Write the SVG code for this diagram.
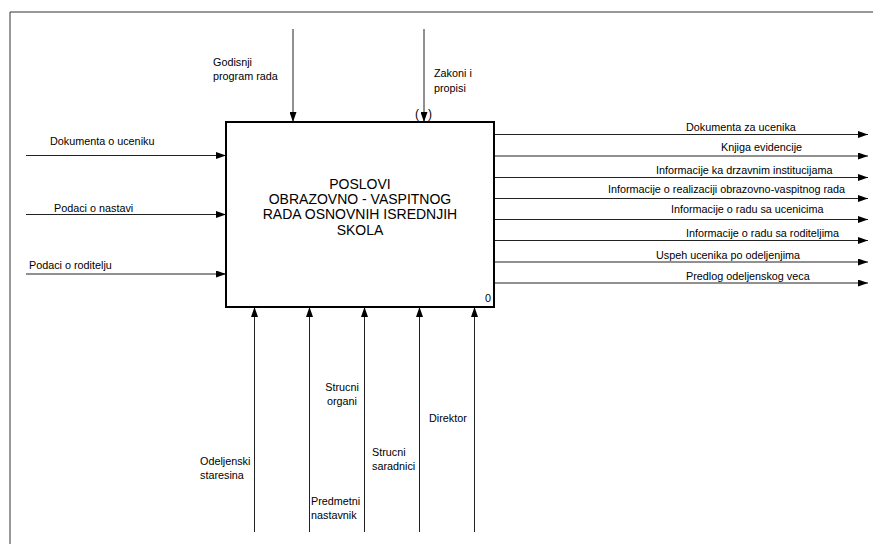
<svg xmlns="http://www.w3.org/2000/svg" width="873" height="544" viewBox="0 0 873 544">
<defs>
<marker id="ah" viewBox="0 0 10 7" refX="10" refY="3.5" markerWidth="10" markerHeight="7" markerUnits="userSpaceOnUse" orient="auto">
<path d="M0,0 L10,3.5 L0,7 Z" fill="#000"/>
</marker>
</defs>
<style>
text{font-family:"Liberation Sans",Arial,sans-serif;font-size:10.8px;fill:#000}
.t{font-size:14px}
.c{text-anchor:middle}
.ln{stroke:#222;stroke-width:1;fill:none;marker-end:url(#ah)}
.fr{stroke:#333;stroke-width:1;fill:none}
</style>
<rect width="873" height="544" fill="#fff"/>
<g id="frame">
<line class="fr" x1="10" y1="12" x2="873" y2="12"/>
<line class="fr" x1="10" y1="12" x2="10" y2="544"/>
</g>
<g id="connectors">
<line class="ln" x1="293" y1="29" x2="293" y2="122"/>
<line class="ln" x1="424" y1="29" x2="424" y2="122"/>
<line class="ln" x1="26" y1="155.5" x2="226" y2="155.5"/>
<line class="ln" x1="26" y1="214.5" x2="226" y2="214.5"/>
<line class="ln" x1="26" y1="274" x2="226" y2="274"/>
<line class="ln" x1="494" y1="134.5" x2="868" y2="134.5"/>
<line class="ln" x1="494" y1="156" x2="868" y2="156"/>
<line class="ln" x1="494" y1="177.5" x2="868" y2="177.5"/>
<line class="ln" x1="494" y1="198.5" x2="868" y2="198.5"/>
<line class="ln" x1="494" y1="219.5" x2="868" y2="219.5"/>
<line class="ln" x1="494" y1="240.5" x2="868" y2="240.5"/>
<line class="ln" x1="494" y1="262" x2="868" y2="262"/>
<line class="ln" x1="494" y1="283" x2="868" y2="283"/>
<line class="ln" x1="254.5" y1="532" x2="254.5" y2="307"/>
<line class="ln" x1="309.5" y1="532" x2="309.5" y2="307"/>
<line class="ln" x1="364.5" y1="532" x2="364.5" y2="307"/>
<line class="ln" x1="419.5" y1="532" x2="419.5" y2="307"/>
<line class="ln" x1="474.5" y1="532" x2="474.5" y2="307"/>
<text x="213" y="66">Godisnji</text>
<text x="213" y="80">program rada</text>
<text x="434" y="77">Zakoni i</text>
<text x="434" y="92">propisi</text>
<text x="415" y="118" style="font-size:12px">(</text>
<text x="428" y="118" style="font-size:12px">)</text>
<text x="50" y="145">Dokumenta o uceniku</text>
<text x="54" y="212">Podaci o nastavi</text>
<text x="29" y="269">Podaci o roditelju</text>
<text x="686" y="131">Dokumenta za ucenika</text>
<text x="721" y="151">Knjiga evidencije</text>
<text x="656" y="174">Informacije ka drzavnim institucijama</text>
<text x="608" y="193">Informacije o realizaciji obrazovno-vaspitnog rada</text>
<text x="671" y="213">Informacije o radu sa ucenicima</text>
<text x="686" y="237">Informacije o radu sa roditeljima</text>
<text x="656" y="259">Uspeh ucenika po odeljenjima</text>
<text x="686" y="280">Predlog odeljenskog veca</text>
<text x="200" y="465">Odeljenski</text>
<text x="200" y="479">staresina</text>
<text x="342" y="391" class="c">Strucni</text>
<text x="342" y="405" class="c">organi</text>
<text x="372" y="456">Strucni</text>
<text x="372" y="470">saradnici</text>
<text x="429" y="422">Direktor</text>
<text x="311" y="505">Predmetni</text>
<text x="311" y="519">nastavnik</text>
</g>
<g id="node0">
<rect x="226" y="122" width="268" height="185" fill="#fff" stroke="#000" stroke-width="2"/>
<text x="360" y="189" class="t c">POSLOVI</text>
<text x="360" y="204" class="t c">OBRAZOVNO - VASPITNOG</text>
<text x="360" y="219" class="t c">RADA OSNOVNIH ISREDNJIH</text>
<text x="360" y="235" class="t c">SKOLA</text>
<text x="485" y="302">0</text>
</g>
</svg>
